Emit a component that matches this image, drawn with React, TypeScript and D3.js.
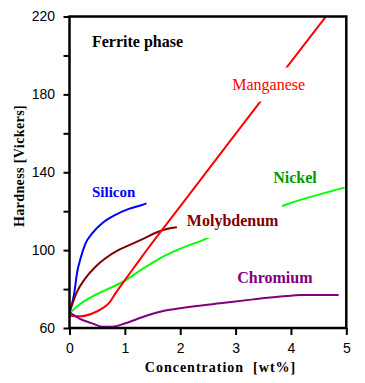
import { useRef, useEffect } from 'react';
import * as d3 from 'd3';

// hardness vs. concentration
const silicon = [[0, 68], [0.08, 77], [0.14, 88.9], [0.2, 95.8], [0.29, 103.5], [0.41, 108.6], [0.59, 113.8], [0.83, 118.1], [1.07, 121.2], [1.31, 123.2], [1.39, 124]];
const molybdenum = [[0, 68], [0.135, 78.6], [0.285, 85.5], [0.47, 91.5], [0.65, 95.8], [0.89, 100.1], [1.1, 102.8], [1.33, 105.8], [1.58, 109.2], [1.76, 110.9], [1.94, 111.7]];
const nickel = [[0, 67.5], [0.17, 71.8], [0.41, 76.1], [0.65, 79.5], [0.95, 83.5], [1.34, 90.7], [1.64, 95.9], [1.94, 100], [2.42, 105.3], [3.89, 123.2], [4.97, 132.1]];
const manganese = [[0, 66.3], [0.2, 66], [0.4, 67.3], [0.6, 70.2], [0.72, 73], [0.83, 77.8], [1.0, 84.6], [1.2, 92.4], [1.4, 100.2], [2, 122.5], [3, 159.7], [4, 196.7], [4.62, 219.6]];
const chromium = [[0, 68], [0.17, 65], [0.41, 62.4], [0.59, 60.7], [0.77, 60.7], [1.01, 62.4], [1.31, 65.5], [1.69, 68.7], [2.0, 70.1], [2.3, 71.3], [2.72, 72.7], [3.32, 74.7], [3.92, 76.4], [4.16, 76.9], [4.86, 76.9]];

const seriesNames = ['Silicon', 'Molybdenum', 'Nickel', 'Manganese', 'Chromium'];
const seriesData = [silicon, molybdenum, nickel, manganese, chromium];

const xTicks = [0, 1, 2, 3, 4, 5];
const yTicks = [60, 80, 100, 120, 140, 160, 180, 200, 220];
const yTickLabels = [60, 100, 140, 180, 220];

const colors = ['#0000ff', '#800000', '#00ff00', '#ff0000', '#800080'];

// label placement (data coords, left edge / baseline)
const labelCfg = [
  { text: 'Silicon', x: 0.406, y: 127.3, color: '#0000ff', size: 15, weight: 'bold', mask: false },
  { text: 'Molybdenum', x: 2.12, y: 112.4, color: '#800000', size: 16, weight: 'bold', mask: true },
  { text: 'Nickel', x: 3.68, y: 134.5, color: '#009900', size: 16, weight: 'bold', mask: false },
  { text: 'Manganese', x: 2.94, y: 182.5, color: '#ff0000', size: 16, weight: 'normal', mask: true },
  { text: 'Chromium', x: 3.03, y: 82.9, color: '#800080', size: 16, weight: 'bold', mask: false },
  { text: 'Ferrite phase', x: 0.406, y: 204.3, color: '#000000', size: 16, weight: 'bold', mask: false },
];

const serif = 'Liberation Serif, DejaVu Serif, serif';
const sans = 'Liberation Sans, Arial, sans-serif';

const App = () => {
  const svgRef = useRef<SVGSVGElement>(null);

  useEffect(() => {
    const svg = d3.select(svgRef.current);
    svg.selectAll('*').remove();

    const x = d3.scaleLinear().domain([0, 5]).range([69.5, 346.3]);
    const y = d3.scaleLinear().domain([60, 220]).range([328, 16.5]);

    svg.append('defs').append('clipPath')
      .attr('id', 'plot-clip')
      .append('rect')
      .attr('x', 69.5).attr('y', 16.5)
      .attr('width', 346.3 - 69.5).attr('height', 328 - 16.5);

    const line = d3.line<number[]>()
      .x(d => x(d[0]))
      .y(d => y(d[1]))
      .curve(d3.curveMonotoneX);

    const lines = svg.append('g').attr('clip-path', 'url(#plot-clip)');
    seriesData.forEach((pts, i) => {
      lines.append('path')
        .datum(pts)
        .attr('class', seriesNames[i])
        .attr('fill', 'none')
        .attr('stroke', colors[i])
        .attr('stroke-width', 2)
        .attr('d', line);
    });

    // labels, some sit on a white box that hides the lines behind
    labelCfg.forEach(l => {
      const g = svg.append('g');
      const t = g.append('text')
        .attr('x', x(l.x))
        .attr('y', y(l.y))
        .attr('fill', l.color)
        .attr('font-family', serif)
        .attr('font-size', l.size)
        .attr('font-weight', l.weight)
        .text(l.text);
      if (l.mask) {
        const b = (t.node() as SVGTextElement).getBBox();
        g.insert('rect', 'text')
          .attr('x', b.x - 3)
          .attr('y', b.y - 8)
          .attr('width', b.width + 6)
          .attr('height', b.height + 16)
          .attr('fill', '#fff');
      }
    });

    const yAxis = d3.axisLeft(y)
      .tickValues(yTicks)
      .tickSize(6)
      .tickPadding(8.5)
      .tickFormat(d => (yTickLabels.includes(+d) ? String(d) : ''));

    const xAxis = d3.axisBottom(x)
      .tickValues(xTicks)
      .tickSize(7)
      .tickPadding(8)
      .tickFormat(d => String(d));

    const ya = svg.append('g').attr('transform', 'translate(69.5,0)').call(yAxis);
    const xa = svg.append('g').attr('transform', 'translate(0,328)').call(xAxis);
    [ya, xa].forEach(a => {
      a.attr('font-family', sans).attr('font-size', 14);
      a.select('.domain').remove();
      a.selectAll('line').attr('stroke', '#000').attr('stroke-width', 2);
      a.selectAll('text').attr('fill', '#000');
    });

    // frame
    svg.append('rect')
      .attr('x', 69.5).attr('y', 16.5)
      .attr('width', 346.3 - 69.5).attr('height', 328 - 16.5)
      .attr('fill', 'none')
      .attr('stroke', '#000')
      .attr('stroke-width', 2.5);

    svg.append('text')
      .attr('x', 220.5)
      .attr('y', 372)
      .attr('text-anchor', 'middle')
      .attr('font-family', serif)
      .attr('font-size', 14)
      .attr('font-weight', 'bold')
      .attr('letter-spacing', 1)
      .style('white-space', 'pre')
      .text('Concentration  [wt%]');

    svg.append('text')
      .attr('transform', 'translate(23.5,166) rotate(-90)')
      .attr('text-anchor', 'middle')
      .attr('font-family', serif)
      .attr('font-size', 14)
      .attr('font-weight', 'bold')
      .attr('letter-spacing', 0.4)
      .text('Hardness [Vickers]');
  }, []);

  return (
    <svg
      ref={svgRef}
      width={365}
      height={383}
      style={{ position: 'absolute', left: 0, top: 0, background: '#fff' }}
    />
  );
};

export default App;
